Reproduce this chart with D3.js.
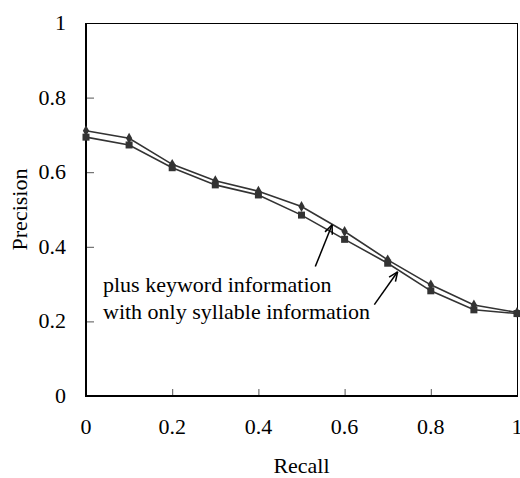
<!DOCTYPE html>
<html><head><meta charset="utf-8">
<script src="https://cdn.jsdelivr.net/npm/d3@7"></script>
<style>body{margin:0;background:#fff}svg{display:block}text{font-family:"Liberation Serif","Times New Roman",serif;fill:#000}</style>
</head><body><svg id="c" width="520" height="478"></svg>
<script>
const recall = [0,0.1,0.2,0.3,0.4,0.5,0.6,0.7,0.8,0.9,1.0];
const plusKeyword = [0.711,0.691,0.621,0.577,0.549,0.508,0.441,0.365,0.298,0.244,0.224];
const syllableOnly = [0.694,0.673,0.612,0.566,0.539,0.485,0.420,0.356,0.282,0.231,0.221];
const xTicks = [0,0.2,0.4,0.6,0.8,1];
const yTicks = [0,0.2,0.4,0.6,0.8,1];
const xTickLabels = ["0","0.2","0.4","0.6","0.8","1"];
const yTickLabels = ["0","0.2","0.4","0.6","0.8","1"];
const annotations = [
  {label:"plus keyword information", from:[0.532,0.347], to:[0.571,0.459]},
  {label:"with only syllable information", from:[0.669,0.245], to:[0.723,0.333]}
];

const svg = d3.select("#c");
const L=86,R=517,T=23,B=396;
const x = d3.scaleLinear().domain([0,1]).range([L,R]);
const y = d3.scaleLinear().domain([0,1]).range([B,T]);
const col = "#333";

// frame top/right
svg.append("line").attr("x1",L).attr("x2",R).attr("y1",T+0.5).attr("y2",T+0.5).attr("stroke","#000").attr("stroke-width",1);
svg.append("line").attr("x1",R+0.5).attr("x2",R+0.5).attr("y1",T).attr("y2",B).attr("stroke","#000").attr("stroke-width",1);

// axes
const yAxis = d3.axisLeft(y).tickValues(yTicks.slice(1,-1)).tickSizeInner(-8).tickSizeOuter(0).tickFormat("");
const gy = svg.append("g").attr("transform",`translate(${L},0)`).call(yAxis);
gy.select(".domain").remove();
gy.selectAll(".tick line").attr("stroke","#555");
const xAxis = d3.axisBottom(x).tickValues(xTicks.slice(1,-1)).tickSizeInner(-7).tickSizeOuter(0).tickFormat("");
const gx = svg.append("g").attr("transform",`translate(0,${B})`).call(xAxis);
gx.select(".domain").remove();
gx.selectAll(".tick line").attr("stroke","#555");

svg.append("line").attr("x1",L).attr("x2",L).attr("y1",T).attr("y2",B+1).attr("stroke","#000").attr("stroke-width",2);
svg.append("line").attr("x1",L-1).attr("x2",R+1).attr("y1",B).attr("y2",B).attr("stroke","#000").attr("stroke-width",2);

// tick labels
svg.selectAll(".yl").data(yTicks).enter().append("text")
  .attr("x",L-20).attr("y",d=>y(d)+7).attr("text-anchor","end").attr("font-size",22)
  .text((d,i)=>yTickLabels[i]);
svg.selectAll(".xl").data(xTicks).enter().append("text")
  .attr("x",d=>x(d)).attr("y",B+38).attr("text-anchor","middle").attr("font-size",22)
  .text((d,i)=>xTickLabels[i]);

// axis titles
svg.append("text").attr("x",(L+R)/2).attr("y",473).attr("text-anchor","middle").attr("font-size",22).text("Recall");
svg.append("text").attr("transform",`translate(27,${(T+B)/2}) rotate(-90)`).attr("text-anchor","middle").attr("font-size",22).text("Precision");

// series
const line = d3.line().x((d,i)=>x(recall[i])).y(d=>y(d));
svg.append("path").datum(syllableOnly).attr("d",line).attr("fill","none").attr("stroke",col).attr("stroke-width",1.6);
svg.append("path").datum(plusKeyword).attr("d",line).attr("fill","none").attr("stroke",col).attr("stroke-width",1.6);
const diamond = d3.symbol().type(d3.symbolDiamond).size(34);
svg.selectAll(".dm").data(plusKeyword).enter().append("path")
  .attr("d",diamond).attr("transform",(d,i)=>`translate(${x(recall[i])},${y(d)})`).attr("fill",col);
svg.selectAll(".sq").data(syllableOnly).enter().append("rect")
  .attr("x",(d,i)=>x(recall[i])-3.5).attr("y",d=>y(d)-3.5).attr("width",7).attr("height",7).attr("fill",col);

// annotations
svg.append("text").attr("x",103).attr("y",292).attr("font-size",22).text(annotations[0].label);
svg.append("text").attr("x",103).attr("y",319).attr("font-size",22).text(annotations[1].label);
annotations.forEach(a=>{
  const x1=x(a.from[0]), y1=y(a.from[1]), x2=x(a.to[0]), y2=y(a.to[1]);
  svg.append("line").attr("x1",x1).attr("y1",y1).attr("x2",x2).attr("y2",y2).attr("stroke","#000").attr("stroke-width",1.5);
  const ang=Math.atan2(y2-y1,x2-x1), len=10, sp=0.4;
  [ang+Math.PI-sp, ang+Math.PI+sp].forEach(t=>{
    svg.append("line").attr("x1",x2).attr("y1",y2).attr("x2",x2+len*Math.cos(t)).attr("y2",y2+len*Math.sin(t)).attr("stroke","#000").attr("stroke-width",1.5);
  });
});
</script></body></html>
